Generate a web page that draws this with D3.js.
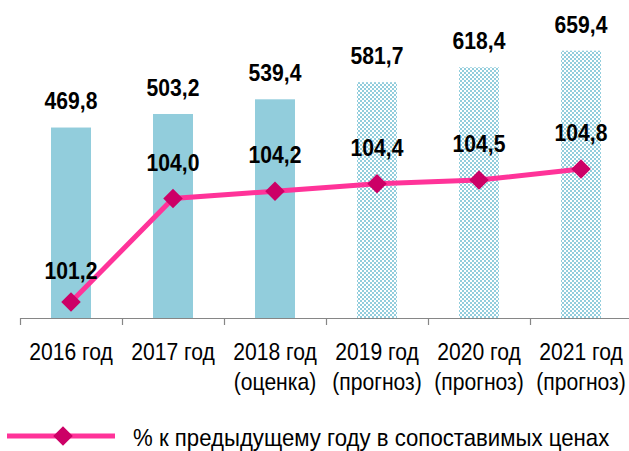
<!DOCTYPE html>
<html>
<head>
<meta charset="utf-8">
<script src="https://cdn.jsdelivr.net/npm/d3@7"></script>
<style>
  body { margin: 0; background: #fff; }
  svg { display: block; font-family: "Liberation Sans", Arial, sans-serif; }
</style>
</head>
<body>
<svg width="629" height="451"></svg>
<script>
let years = ['2016 год', '2017 год', '2018 год', '2019 год', '2020 год', '2021 год'];
let notes = ['', '', '(оценка)', '(прогноз)', '(прогноз)', '(прогноз)'];
let volume = [469.8, 503.2, 539.4, 581.7, 618.4, 659.4];
let growth = [101.2, 104.0, 104.2, 104.4, 104.5, 104.8];
let forecast = [false, false, false, true, true, true];
let legendText = '% к предыдущему году в сопоставимых ценах';

var svg = d3.select('svg');
var fmt = function(v) { return d3.format('.1f')(v).replace('.', ','); };
var squeeze = 0.88; // text in the picture is a bit narrow

var x = d3.scaleBand().domain(years).range([20, 632]);
var barW = 40;
var y = d3.scaleLinear().domain([0, 700]).range([318, 34.2]);
var y2 = d3.scaleLinear().domain([101, 105]).range([309.4, 161.6]);
var cx = function(d) { return x(d) + x.bandwidth() / 2; };

// checker pattern for forecast bars
var defs = svg.append('defs');
var pat = defs.append('pattern')
	.attr('id', 'checker')
	.attr('width', 4)
	.attr('height', 4)
	.attr('patternUnits', 'userSpaceOnUse');
pat.append('rect').attr('width', 4).attr('height', 4).attr('fill', '#ffffff');
pat.append('rect').attr('width', 2).attr('height', 2).attr('fill', '#92cddc');
pat.append('rect').attr('x', 2).attr('y', 2).attr('width', 2).attr('height', 2).attr('fill', '#92cddc');

// bars
svg.append('g')
	.selectAll('rect')
	.data(years)
	.join('rect')
	.attr('x', function(d) { return x(d) + (x.bandwidth() - barW) / 2; })
	.attr('y', function(d, i) { return y(volume[i]); })
	.attr('width', barW)
	.attr('height', function(d, i) { return y(0) - y(volume[i]); })
	.attr('fill', function(d, i) { return forecast[i] ? 'url(#checker)' : '#92cddc'; });

// bar labels
svg.append('g')
	.selectAll('text')
	.data(years)
	.join('text')
	.attr('transform', function(d, i) {
		return 'translate(' + cx(d) + ',' + (y(volume[i]) - 26) + ') scale(' + squeeze + ',1)';
	})
	.attr('text-anchor', 'middle')
	.attr('dominant-baseline', 'central')
	.attr('font-size', 24)
	.attr('font-weight', 'bold')
	.attr('fill', '#000')
	.text(function(d, i) { return fmt(volume[i]); });

// axis
var axis = svg.append('g');
axis.append('line')
	.attr('x1', x.range()[0]).attr('x2', x.range()[1])
	.attr('y1', y(0) + 0.5).attr('y2', y(0) + 0.5)
	.attr('stroke', '#868686').attr('stroke-width', 1.2);
axis.selectAll('line.tick')
	.data(years)
	.join('line')
	.attr('class', 'tick')
	.attr('x1', function(d) { return x(d) + 0.5; })
	.attr('x2', function(d) { return x(d) + 0.5; })
	.attr('y1', y(0))
	.attr('y2', y(0) + 7)
	.attr('stroke', '#868686').attr('stroke-width', 1.2);

var lab = axis.selectAll('text.cat')
	.data(years)
	.join('text')
	.attr('class', 'cat')
	.attr('transform', function(d) { return 'translate(' + cx(d) + ',352) scale(' + squeeze + ',1)'; })
	.attr('text-anchor', 'middle')
	.attr('font-size', 24)
	.attr('fill', '#000');
lab.append('tspan')
	.attr('x', 0)
	.attr('dominant-baseline', 'central')
	.text(function(d) { return d; });
lab.append('tspan')
	.attr('x', 0)
	.attr('dy', 30)
	.attr('dominant-baseline', 'central')
	.text(function(d, i) { return notes[i]; });

// growth line
var line = d3.line()
	.x(function(d, i) { return cx(years[i]); })
	.y(function(d) { return y2(d); });

svg.append('path')
	.datum(growth)
	.attr('d', line)
	.attr('fill', 'none')
	.attr('stroke', '#ff3399')
	.attr('stroke-width', 5);

var diamond = d3.symbol().type(d3.symbolSquare).size(190);
svg.append('g')
	.selectAll('path')
	.data(growth)
	.join('path')
	.attr('d', diamond)
	.attr('transform', function(d, i) {
		return 'translate(' + cx(years[i]) + ',' + y2(d) + ') rotate(45)';
	})
	.attr('fill', '#cc0066');

svg.append('g')
	.selectAll('text')
	.data(growth)
	.join('text')
	.attr('transform', function(d, i) {
		return 'translate(' + cx(years[i]) + ',' + (y2(d) - (i == 0 ? 31 : 36)) + ') scale(' + squeeze + ',1)';
	})
	.attr('text-anchor', 'middle')
	.attr('dominant-baseline', 'central')
	.attr('font-size', 24)
	.attr('font-weight', 'bold')
	.attr('fill', '#000')
	.text(function(d) { return fmt(d); });

// legend
var leg = svg.append('g');
leg.append('line')
	.attr('x1', 7).attr('x2', 115)
	.attr('y1', 436).attr('y2', 436)
	.attr('stroke', '#ff3399').attr('stroke-width', 5);
leg.append('path')
	.attr('d', diamond)
	.attr('transform', 'translate(63,436) rotate(45)')
	.attr('fill', '#cc0066');
leg.append('text')
	.attr('transform', 'translate(133,438) scale(0.925,1)')
	.attr('dominant-baseline', 'central')
	.attr('font-size', 24)
	.attr('fill', '#000')
	.text(legendText);
</script>
</body>
</html>
